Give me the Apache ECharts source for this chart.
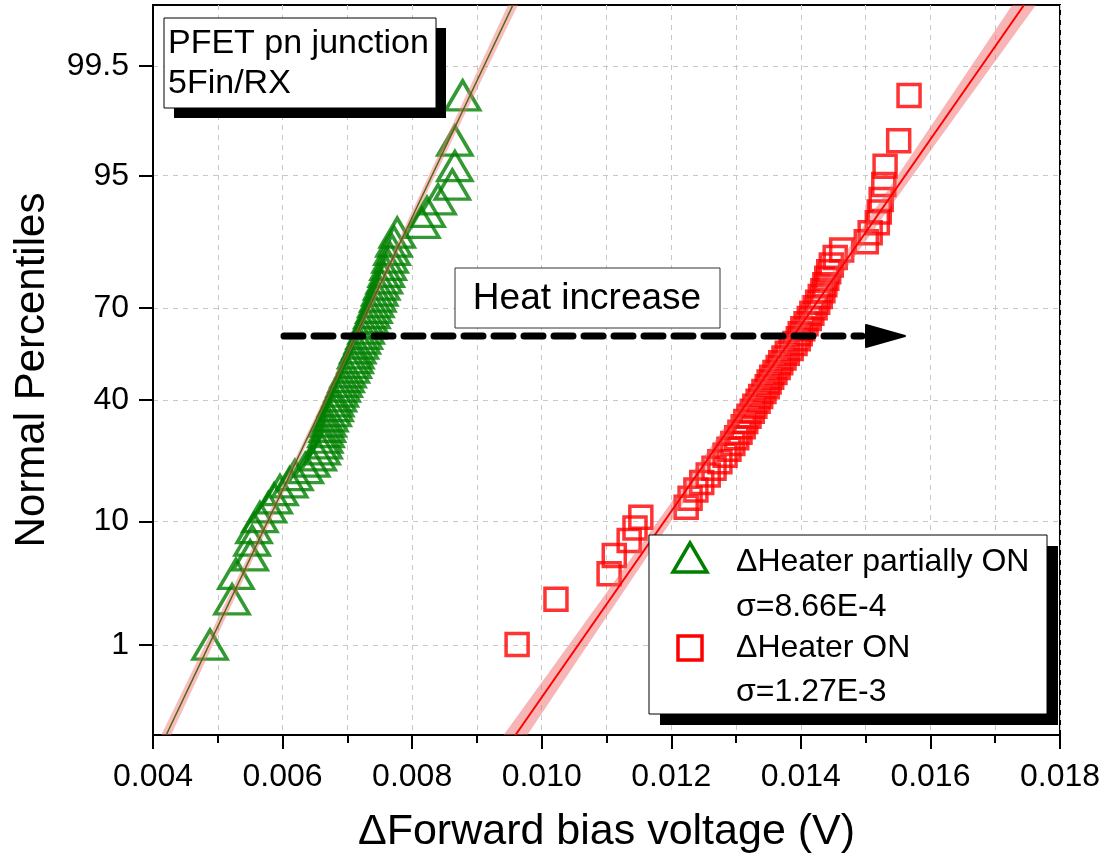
<!DOCTYPE html>
<html>
<head>
<meta charset="utf-8">
<script src="https://cdn.jsdelivr.net/npm/echarts@6/dist/echarts.min.js"></script>
<style>
  html, body { margin: 0; padding: 0; background: #ffffff; }
  #chart { width: 1110px; height: 868px; }
</style>
</head>
<body>
<div id="chart"></div>
<script>
// Forward-bias shift per device (V), sorted ascending
const partialOnVolts = [
  0.00488, 0.00522, 0.00528, 0.00550, 0.00553, 0.00556, 0.00565, 0.00578, 0.00587, 0.00596,
  0.00611, 0.00619, 0.00635, 0.00645, 0.00655, 0.00661, 0.00664, 0.00665, 0.00667, 0.00669,
  0.00670, 0.00673, 0.00678, 0.00681, 0.00682, 0.00686, 0.00689, 0.00692, 0.00695, 0.00698,
  0.00701, 0.00706, 0.00709, 0.00712, 0.00713, 0.00716, 0.00720, 0.00723, 0.00726, 0.00729,
  0.00732, 0.00735, 0.00738, 0.00741, 0.00744, 0.00747, 0.00750, 0.00753, 0.00757, 0.00760,
  0.00763, 0.00766, 0.00769, 0.00772, 0.00777, 0.00815, 0.00823, 0.00840, 0.00862, 0.00866,
  0.00866, 0.00878
];
const fullOnVolts = [
  0.00962, 0.01022, 0.01104, 0.01112, 0.01135, 0.01144, 0.01153, 0.01223, 0.01229, 0.01238,
  0.01247, 0.01257, 0.01266, 0.01275, 0.01283, 0.01289, 0.01295, 0.01301, 0.01306, 0.01311,
  0.01315, 0.01320, 0.01325, 0.01329, 0.01334, 0.01338, 0.01343, 0.01348, 0.01351, 0.01355,
  0.01360, 0.01365, 0.01369, 0.01374, 0.01379, 0.01385, 0.01391, 0.01396, 0.01399, 0.01403,
  0.01408, 0.01413, 0.01417, 0.01422, 0.01426, 0.01430, 0.01434, 0.01437, 0.01440, 0.01443,
  0.01447, 0.01453, 0.01463, 0.01501, 0.01507, 0.01518, 0.01521, 0.01524, 0.01528, 0.01530,
  0.01551, 0.01567
];

// Normal fit of each group: mean, sigma and relative half-width of the confidence band
const partialOnFit = { mu: 0.00688, sigma: 8.66e-4, band: 0.037 };
const fullOnFit = { mu: 0.01352, sigma: 1.27e-3, band: 0.06 };

// Series names
const seriesNames = ['\u0394Heater partially ON', '\u0394Heater ON'];

// Probability axis: labelled percentiles and the percent range shown
const percentileTicks = [1, 10, 40, 70, 95, 99.5];
const percentRange = [0.1, 99.9];

// Voltage axis
const xMin = 0.004, xMax = 0.018, xStep = 0.002;

const FONT = '"Liberation Sans", Arial, Helvetica, sans-serif';

// Inverse standard normal CDF (Acklam)
function normInv(p) {
  const a = [-3.969683028665376e+01, 2.209460984245205e+02, -2.759285104469687e+02,
             1.383577518672690e+02, -3.066479806614716e+01, 2.506628277459239e+00];
  const b = [-5.447609879822406e+01, 1.615858368580409e+02, -1.556989798598866e+02,
             6.680131188771972e+01, -1.328068155288572e+01];
  const c = [-7.784894002430293e-03, -3.223964580411365e-01, -2.400758277161838e+00,
             -2.549732539343734e+00, 4.374664141464968e+00, 2.938163982698783e+00];
  const d = [7.784695709041462e-03, 3.224671290700398e-01, 2.445134137142996e+00,
             3.754408661907416e+00];
  const pl = 0.02425, ph = 1 - pl;
  let q, r;
  if (p < pl) {
    q = Math.sqrt(-2 * Math.log(p));
    return (((((c[0]*q+c[1])*q+c[2])*q+c[3])*q+c[4])*q+c[5]) / ((((d[0]*q+d[1])*q+d[2])*q+d[3])*q+1);
  }
  if (p <= ph) {
    q = p - 0.5; r = q * q;
    return (((((a[0]*r+a[1])*r+a[2])*r+a[3])*r+a[4])*r+a[5])*q / (((((b[0]*r+b[1])*r+b[2])*r+b[3])*r+b[4])*r+1);
  }
  q = Math.sqrt(-2 * Math.log(1 - p));
  return -(((((c[0]*q+c[1])*q+c[2])*q+c[3])*q+c[4])*q+c[5]) / ((((d[0]*q+d[1])*q+d[2])*q+d[3])*q+1);
}

const zMin = normInv(percentRange[0] / 100);
const zMax = normInv(percentRange[1] / 100);
const zTicks = percentileTicks.map(p => normInv(p / 100));

// Blom plotting positions -> normal scores
function probPoints(values) {
  const n = values.length;
  return values.map((v, i) => [v, normInv((i + 1 - 0.375) / (n + 0.25))]);
}

function fitLine(fit) {
  return [[fit.mu + zMin * fit.sigma, zMin], [fit.mu + zMax * fit.sigma, zMax]];
}

function bandRenderer(fit, fill) {
  return function (params, api) {
    const left = [], right = [];
    const steps = 60;
    for (let k = 0; k <= steps; k++) {
      const z = zMin + (zMax - zMin) * k / steps;
      const x = fit.mu + z * fit.sigma;
      const hw = fit.band * fit.sigma * Math.sqrt(1 + z * z / 2);
      left.push(api.coord([x - hw, z]));
      right.push(api.coord([x + hw, z]));
    }
    return {
      type: 'polygon',
      shape: { points: left.concat(right.reverse()) },
      style: { fill: fill, stroke: null }
    };
  };
}

function sigmaText(fit) {
  return '\u03c3=' + fit.sigma.toExponential(2).toUpperCase();
}

const chart = echarts.init(document.getElementById('chart'), null, { renderer: 'canvas' });

const gridLine = { color: '#c8c8c8', width: 1, type: [5, 5] };

const option = {
  backgroundColor: '#ffffff',
  animation: false,
  grid: { left: 153, top: 5, width: 907, height: 730, show: true, borderColor: '#000', borderWidth: 2, backgroundColor: 'transparent' },
  xAxis: {
    type: 'value', min: xMin, max: xMax, interval: xStep,
    name: '\u0394Forward bias voltage (V)', nameLocation: 'middle', nameGap: 76,
    nameTextStyle: { fontFamily: FONT, fontSize: 43, color: '#000' },
    axisLine: { show: true, onZero: false, lineStyle: { color: '#000', width: 2 } },
    axisTick: { show: true, inside: false, length: 14, lineStyle: { color: '#000', width: 2 } },
    minorTick: { show: true, splitNumber: 2, length: 8, lineStyle: { color: '#000', width: 2 } },
    axisLabel: { fontFamily: FONT, fontSize: 32, color: '#000', margin: 26, formatter: v => v.toFixed(3) },
    splitLine: { show: true, lineStyle: gridLine },
    minorSplitLine: { show: true, lineStyle: gridLine }
  },
  yAxis: {
    type: 'value', min: zMin, max: zMax,
    name: 'Normal Percentiles', nameLocation: 'middle', nameGap: 100, nameRotate: 90,
    nameTextStyle: { fontFamily: FONT, fontSize: 42, color: '#000' },
    axisLine: { show: true, onZero: false, lineStyle: { color: '#000', width: 2 } },
    axisTick: { show: true, inside: false, length: 14, customValues: zTicks, lineStyle: { color: '#000', width: 2 } },
    axisLabel: {
      fontFamily: FONT, fontSize: 32, color: '#000', margin: 24, customValues: zTicks,
      formatter: v => {
        let best = 0;
        zTicks.forEach((z, i) => { if (Math.abs(z - v) < Math.abs(zTicks[best] - v)) best = i; });
        return String(percentileTicks[best]);
      }
    },
    splitLine: { show: true, lineStyle: gridLine }
  },
  series: [
    {
      name: seriesNames[0], type: 'scatter', z: 3,
      data: probPoints(partialOnVolts),
      symbol: 'triangle', symbolSize: [34, 29],
      itemStyle: { color: 'rgba(0,0,0,0)', borderColor: '#008000', borderWidth: 3.5 }
    },
    {
      name: seriesNames[1], type: 'scatter', z: 3,
      data: probPoints(fullOnVolts),
      symbol: 'rect', symbolSize: 22,
      itemStyle: { color: 'rgba(0,0,0,0)', borderColor: '#ff0000', borderWidth: 3.5 }
    },
    {
      type: 'custom', z: 4, clip: true, silent: true,
      data: [[partialOnFit.mu, 0]],
      renderItem: bandRenderer(partialOnFit, 'rgba(240,110,110,0.45)')
    },
    {
      type: 'custom', z: 4, clip: true, silent: true,
      data: [[fullOnFit.mu, 0]],
      renderItem: bandRenderer(fullOnFit, 'rgba(240,90,90,0.45)')
    },
    {
      type: 'line', z: 5, showSymbol: false, silent: true,
      data: fitLine(partialOnFit),
      lineStyle: { color: '#4f6614', width: 1.5 }
    },
    {
      type: 'line', z: 5, showSymbol: false, silent: true,
      data: fitLine(fullOnFit),
      lineStyle: { color: '#ff0000', width: 2 }
    }
  ],
  graphic: [
    // sample description box
    { type: 'rect', z: 100, shape: { x: 174, y: 28, width: 272, height: 90 }, style: { fill: '#000' } },
    { type: 'rect', z: 101, shape: { x: 164, y: 18, width: 272, height: 90 }, style: { fill: '#fff', stroke: '#000', lineWidth: 1 } },
    { type: 'text', z: 102, x: 168, y: 44, style: { text: 'PFET pn junction', font: '34px ' + FONT, fill: '#000', verticalAlign: 'middle' } },
    { type: 'text', z: 102, x: 168, y: 84, style: { text: '5Fin/RX', font: '34px ' + FONT, fill: '#000', verticalAlign: 'middle' } },

    // heating shift annotation
    { type: 'rect', z: 100, shape: { x: 455, y: 268, width: 265, height: 60 }, style: { fill: '#fff', stroke: '#333', lineWidth: 1 } },
    { type: 'text', z: 101, x: 587, y: 299, style: { text: 'Heat increase', font: '37px ' + FONT, fill: '#000', align: 'center', verticalAlign: 'middle' } },
    { type: 'line', z: 100, shape: { x1: 284, y1: 336, x2: 862, y2: 336 }, style: { stroke: '#000', lineWidth: 7, lineDash: [19, 11], lineCap: 'round' } },
    { type: 'polygon', z: 100, shape: { points: [[866, 325], [905, 336], [866, 347]] }, style: { fill: '#000', stroke: '#000', lineWidth: 2, lineJoin: 'round' } },

    // legend
    { type: 'rect', z: 100, shape: { x: 660, y: 546, width: 398, height: 179 }, style: { fill: '#000' } },
    { type: 'rect', z: 101, shape: { x: 649, y: 535, width: 398, height: 179 }, style: { fill: '#fff', stroke: '#000', lineWidth: 1 } },
    { type: 'polygon', z: 102, shape: { points: [[690, 543], [707, 572], [673, 572]] }, style: { fill: 'none', stroke: '#008000', lineWidth: 3.5 } },
    { type: 'text', z: 102, x: 736, y: 562, style: { text: seriesNames[0], font: '32px ' + FONT, fill: '#000', verticalAlign: 'middle' } },
    { type: 'text', z: 102, x: 736, y: 607, style: { text: sigmaText(partialOnFit), font: '32px ' + FONT, fill: '#000', verticalAlign: 'middle' } },
    { type: 'rect', z: 102, shape: { x: 678, y: 636, width: 24, height: 24 }, style: { fill: 'none', stroke: '#ff0000', lineWidth: 3.5 } },
    { type: 'text', z: 102, x: 736, y: 648, style: { text: seriesNames[1], font: '32px ' + FONT, fill: '#000', verticalAlign: 'middle' } },
    { type: 'text', z: 102, x: 736, y: 692, style: { text: sigmaText(fullOnFit), font: '32px ' + FONT, fill: '#000', verticalAlign: 'middle' } }
  ]
};

chart.setOption(option);
</script>
</body>
</html>
